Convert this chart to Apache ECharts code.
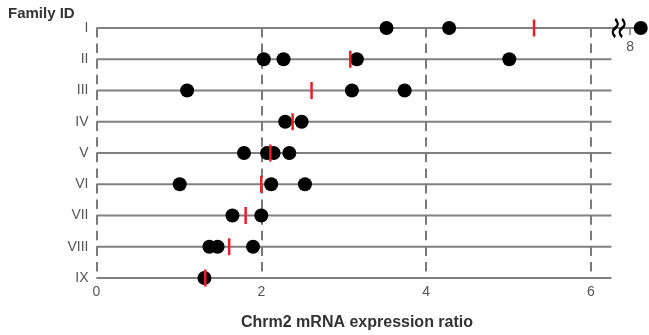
<!DOCTYPE html>
<html>
<head>
<meta charset="utf-8">
<script src="https://cdn.jsdelivr.net/npm/echarts@6/dist/echarts.min.js"></script>
<style>html,body{margin:0;padding:0;background:#fff}#c{width:649px;height:335px}</style>
</head>
<body>
<div id="c"></div>
<script>
const families = ['I','II','III','IV','V','VI','VII','VIII','IX'];
const ratios = [
  [3.52, 4.28, 8.13],
  [2.03, 2.27, 3.16, 5.01],
  [1.10, 3.10, 3.74],
  [2.29, 2.49],
  [1.79, 2.07, 2.15, 2.34],
  [1.01, 2.12, 2.53],
  [1.65, 2.00],
  [1.37, 1.47, 1.90],
  [1.31]
];
const means = [5.31, 3.08, 2.61, 2.38, 2.11, 2.00, 1.81, 1.61, 1.32];
const lineEnds = [8.13, 6.25, 6.25, 6.25, 6.25, 6.25, 6.25, 6.25, 6.25];
const xTicks = [0, 2, 4, 6];
const breakStart = 6.3, breakEnd = 7.9;
const breakTick = 8;
const xMax = 8.2;

const FONT = 'Liberation Sans, Arial, sans-serif';
const dotData = [];
ratios.forEach((arr, i) => arr.forEach(v => dotData.push([v, families[i]])));
const meanData = means.map((v, i) => [v, families[i]]);

const chart = echarts.init(document.getElementById('c'));
chart.setOption({
  animation: false,
  textStyle: {fontFamily: FONT},
  grid: {left: 96.5, right: 2.5, top: 28, bottom: 57},
  xAxis: {
    type: 'value', min: 0, max: xMax, interval: 2,
    breaks: [{start: breakStart, end: breakEnd, gap: '1.13%'}],
    breakArea: {show: false},
    axisLine: {show: false}, axisTick: {show: false}, splitLine: {show: false},
    axisLabel: {show: false}
  },
  yAxis: {
    type: 'category', data: families, inverse: true, boundaryGap: false,
    axisLine: {show: false}, axisTick: {show: false}, splitLine: {show: false},
    axisLabel: {color: '#555', fontSize: 14, margin: 8}
  },
  graphic: [
    {type: 'text', left: 8, top: 6, style: {text: 'Family ID', font: 'bold 15px ' + FONT, fill: '#333'}},
    {type: 'text', x: 357, y: 323, style: {text: 'Chrm2 mRNA expression ratio', font: 'bold 16px ' + FONT, fill: '#333', textAlign: 'center', textVerticalAlign: 'middle'}}
  ],
  series: [
    {
      type: 'bar', data: lineEnds.map((v, i) => [v, families[i]]),
      barWidth: 2, itemStyle: {color: '#808080'}, silent: true, z: 2,
      markLine: {
        symbol: 'none', silent: true,
        label: {show: true, position: 'end', distance: 7, color: '#555', fontSize: 14, formatter: p => String(p.value)},
        lineStyle: {type: [9.5, 6.1], color: '#7a7a7a', width: 2},
        data: xTicks.map(v => ({xAxis: v}))
      }
    },
    {
      type: 'scatter', data: [[breakTick, families[0]]], z: 3,
      symbol: 'rect', symbolSize: [1.5, 6], symbolOffset: [0, 4],
      itemStyle: {color: '#777', opacity: 1},
      label: {show: true, position: 'bottom', distance: 5, formatter: String(breakTick), color: '#555', fontSize: 14}
    },
    {
      type: 'scatter', data: [[(breakStart + breakEnd) / 2, families[0]]], z: 4,
      symbol: 'path://M2,0 C5,3 5,5 2,7 C-1,9 -1,11 2,14 M8,0 C11,3 11,5 8,7 C5,9 5,11 8,14',
      symbolSize: [12, 18],
      itemStyle: {color: 'none', borderColor: '#000', borderWidth: 2.6, opacity: 1}
    },
    {
      type: 'scatter', data: dotData, z: 5,
      symbol: 'circle', symbolSize: 14, itemStyle: {color: '#000', opacity: 1}
    },
    {
      type: 'scatter', data: meanData, z: 6,
      symbol: 'rect', symbolSize: [2.5, 17], itemStyle: {color: '#ee1c24', opacity: 1}
    }
  ]
});
</script>
</body>
</html>
